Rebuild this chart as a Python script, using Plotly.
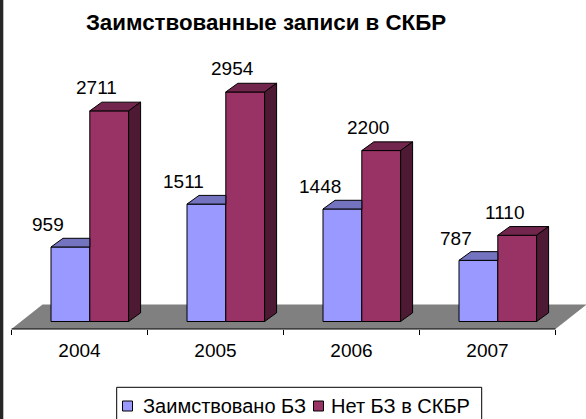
import plotly.graph_objects as go

# ---- data ----
years = ["2004", "2005", "2006", "2007"]
borrowed = [959, 1511, 1448, 787]      # Заимствовано БЗ
missing = [2711, 2954, 2200, 1110]     # Нет БЗ в СКБР
series_names = ["Заимствовано БЗ", "Нет БЗ в СКБР"]
title_text = "Заимствованные записи в СКБР"

# ---- geometry / scale parameters ----
W, H = 586, 419
M_T, M_B = 40, 40
PLOT_H = H - M_T - M_B
PX_X = 136.0        # pixels per category
PX_Y = 0.0777       # pixels per value unit
Y0_PIX = 321.5      # pixel row of value 0
X0_PIX = 79.5       # pixel column of first category centre

x_range = [-X0_PIX / PX_X, (W - X0_PIX) / PX_X]
y_range = [-(H - M_B - Y0_PIX) / PX_Y, (Y0_PIX - M_T) / PX_Y]

bar_w = 38.8 / PX_X
offsets = [-9.1 / PX_X, 29.7 / PX_X]
dep_x = 12.0 / PX_X
dep_y = 8.7 / PX_Y
floor_front = -7.5 / PX_Y
floor_dx = 31.0 / PX_X
floor_dy = 24.5 / PX_Y

front_col = ["#9999FF", "#993366"]
top_col = ["#7373BF", "#73264D"]
side_col = "#4D1933"
FONT = "Liberation Sans, Arial, sans-serif"

fig = go.Figure()
idx = list(range(len(years)))
series = [borrowed, missing]

for s, vals in enumerate(series):
    fig.add_trace(go.Bar(
        x=[i + offsets[s] for i in idx], y=vals, width=bar_w,
        name=series_names[s], showlegend=False,
        marker=dict(color=front_col[s], line=dict(color="black", width=1)),
        hoverinfo="skip",
    ))

# 3D faces (computed from the data)
for s, vals in enumerate(series):
    for i, v in zip(idx, vals):
        xl = i + offsets[s] - bar_w / 2
        xr = i + offsets[s] + bar_w / 2
        if s == 0:
            tx = [xl, xl + dep_x, xr, xr, xl]
        else:
            tx = [xl, xl + dep_x, xr + dep_x, xr, xl]
        ty = [v, v + dep_y, v + dep_y, v, v]
        fig.add_trace(go.Scatter(x=tx, y=ty, mode="lines", fill="toself",
                                 fillcolor=top_col[s], line=dict(color="black", width=1),
                                 showlegend=False, hoverinfo="skip"))
        if s == 1:
            sx = [xr, xr, xr + dep_x, xr + dep_x, xr]
            sy = [0, v, v + dep_y, dep_y, 0]
            fig.add_trace(go.Scatter(x=sx, y=sy, mode="lines", fill="toself",
                                     fillcolor=side_col, line=dict(color="black", width=1),
                                     showlegend=False, hoverinfo="skip"))

# value labels
label_shift = [(-22.7, 22.2), (-12.9, 23.0)]
for s, vals in enumerate(series):
    for i, v in zip(idx, vals):
        fig.add_annotation(x=i + offsets[s], y=v, text=str(v), showarrow=False,
                           xshift=label_shift[s][0], yshift=label_shift[s][1],
                           font=dict(family=FONT, size=19, color="black"))

# floor
x_lo, x_hi = -0.5, len(years) - 0.5
floor_path = (f"M{x_lo},{floor_front} L{x_hi},{floor_front} "
              f"L{x_hi + floor_dx},{floor_front + floor_dy} L{x_lo + floor_dx},{floor_front + floor_dy} Z")
fig.add_shape(type="path", path=floor_path, xref="x", yref="y", layer="below",
              fillcolor="#808080", line=dict(width=0))
fig.add_shape(type="line", x0=x_lo, x1=x_hi, y0=floor_front, y1=floor_front,
              xref="x", yref="y", line=dict(color="black", width=1))

# helpers: pixel -> paper coordinates
def px(xp):
    return xp / W

def py(yp):
    return (H - M_B - yp) / PLOT_H

# left dark border
fig.add_shape(type="rect", xref="paper", yref="paper", x0=0, x1=px(3.3),
              y0=py(H), y1=py(0), fillcolor="#262626", line=dict(width=0), layer="above")

# legend (box, swatches, labels)
fig.add_shape(type="rect", xref="paper", yref="paper", x0=px(116.7), x1=px(481.7),
              y0=py(425), y1=py(387.3), fillcolor="white",
              line=dict(color="black", width=1), layer="above")
leg_sw_x = [127.5, 318.5]
leg_txt_x = [141.0, 328.5]
leg_y = 406.0
for s in range(2):
    fig.add_shape(type="rect", xref="paper", yref="paper",
                  x0=px(leg_sw_x[s] - 5), x1=px(leg_sw_x[s] + 5),
                  y0=py(leg_y + 5), y1=py(leg_y - 5), fillcolor=front_col[s],
                  line=dict(color="black", width=1), layer="above")
    fig.add_annotation(xref="paper", yref="paper", x=px(leg_txt_x[s]), y=py(leg_y),
                       text=series_names[s], showarrow=False, xanchor="left",
                       yanchor="middle", font=dict(family=FONT, size=20, color="black"))

axis_pos = py(Y0_PIX + 7.5)

fig.update_layout(
    width=W, height=H,
    margin=dict(l=0, r=0, t=M_T, b=M_B, autoexpand=False),
    paper_bgcolor="white", plot_bgcolor="white",
    barmode="overlay",
    title=dict(text=f"<b>{title_text}</b>", x=266 / W, xanchor="center",
               y=1 - 22.5 / H, yanchor="middle",
               font=dict(family=FONT, size=22.3, color="black")),
    xaxis=dict(range=x_range, anchor="free", position=axis_pos,
               tickmode="array", tickvals=idx, ticktext=years, ticks="",
               showline=False, showgrid=False, zeroline=False,
               ticklabelstandoff=8,
               tickfont=dict(family=FONT, size=19, color="black"),
               minor=dict(ticks="outside", ticklen=5, tickcolor="black", tickwidth=1,
                          tickmode="linear", tick0=-0.5, dtick=1, showgrid=False)),
    yaxis=dict(range=y_range, visible=False),
    showlegend=False,
)

fig.write_html("out.html", config={"displayModeBar": False},
               post_script="document.body.style.margin='0';document.body.style.padding='0';")
